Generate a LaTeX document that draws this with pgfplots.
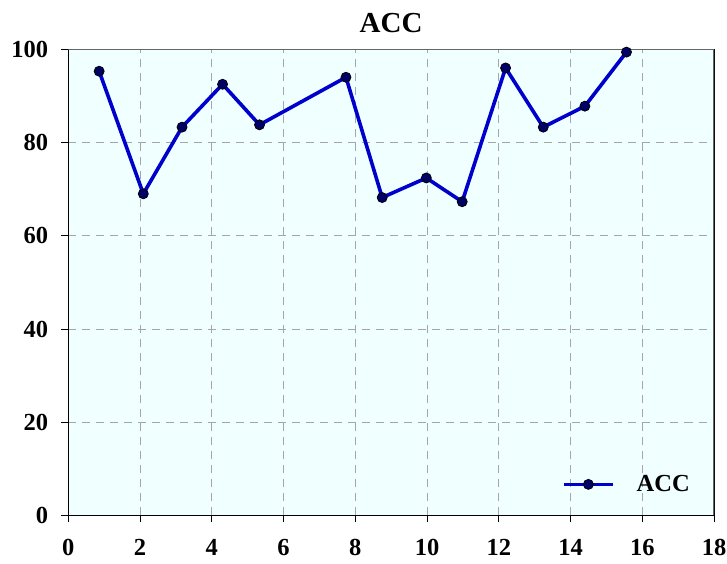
\documentclass[border=0pt]{standalone}
\usepackage{pgfplots}
\pgfplotsset{compat=1.18}
\usepackage{fontspec}
\setmainfont{Liberation Serif}
\definecolor{bgc}{HTML}{F0FFFF}
\definecolor{linec}{HTML}{0000CC}
\definecolor{markc}{HTML}{000066}
\begin{document}
\begin{tikzpicture}
\begin{axis}[
  name=ax,
  scale only axis, width=645.5pt, height=466pt,
  xmin=0, xmax=18, ymin=0, ymax=100,
  xtick={0,2,...,18}, ytick={0,20,...,100},
  axis background/.style={fill=bgc},
  grid=major,
  major grid style={dash pattern=on 8pt off 6pt, color=black!35, line width=0.8pt},
  tick align=outside, tick pos=left, major tick length=7pt,
  tick style={black, line width=0.8pt},
  axis line style={black, line width=0.8pt},
  /pgf/number format/assume math mode=true,
  tick label style={font=\bfseries\fontsize{24.5}{24.5}\selectfont, inner sep=0pt},
  xticklabel style={yshift=-17pt},
  yticklabel style={xshift=-13pt},
  legend style={at={(rel axis cs:1,0)}, anchor=south east, xshift=-24pt, yshift=22pt,
    draw=none, fill=none, inner sep=0pt, column sep=22pt,
    nodes={inner sep=0pt}, font=\bfseries\fontsize{24.5}{24.5}\selectfont},
  legend cell align=left,
  legend image code/.code={\draw[#1, mark repeat=2, mark phase=2] plot coordinates {(0pt,0pt) (24.5pt,0pt) (49pt,0pt)};},
]
\addplot[color=linec, line width=3.6pt, mark=*, mark size=5pt,
  mark options={fill=markc, draw=black, line width=0.8pt}]
  coordinates {
  (0.86,95.3) (2.09,69.0) (3.17,83.3) (4.30,92.5) (5.33,83.8) (7.74,94.0)
  (8.75,68.2) (9.98,72.4) (10.98,67.3) (12.19,96.0) (13.24,83.3) (14.40,87.8) (15.56,99.4)
  };
\addlegendentry{ACC}
\draw[black!60, line width=1.5pt] (rel axis cs:0,1) -- (rel axis cs:1,1) -- (rel axis cs:1,0);
\end{axis}
\node[anchor=base, inner sep=0pt, font=\bfseries\fontsize{29}{29}\selectfont] at ([yshift=17pt]ax.north) {ACC};
\pgfresetboundingbox
\useasboundingbox ([shift={(-68.3pt,-48pt)}]ax.south west) rectangle ([shift={(13pt,49.3pt)}]ax.north east);
\end{tikzpicture}
\end{document}
